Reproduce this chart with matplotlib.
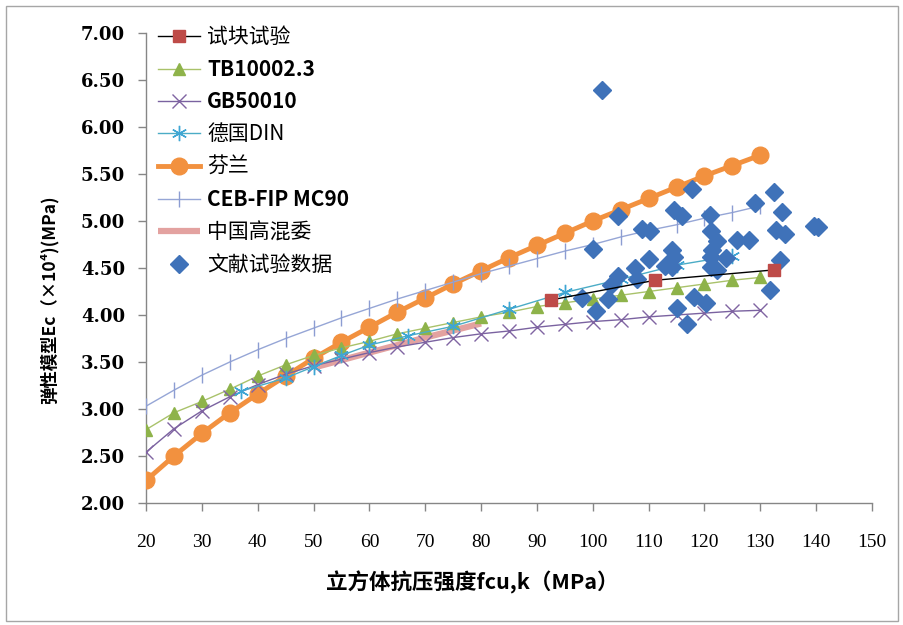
import matplotlib
matplotlib.use("Agg")
import matplotlib.pyplot as plt
from matplotlib.patches import Rectangle
from matplotlib.ticker import FormatStrFormatter

plt.rcParams['font.family'] = ['Noto Sans CJK SC', 'DejaVu Sans']

# ---------------- data ----------------
test_x = [92.5, 111.2, 132.5]
test_y = [4.16, 4.37, 4.48]

tb_x = [20, 25, 30, 35, 40, 45, 50, 55, 60, 65, 70, 75, 80, 85, 90, 95, 100, 105, 110, 115, 120, 125, 130]
tb_y = [2.78, 2.96, 3.08, 3.21, 3.35, 3.47, 3.57, 3.65, 3.72, 3.80, 3.86, 3.92, 3.98, 4.03, 4.09, 4.13, 4.17, 4.21, 4.25, 4.29, 4.33, 4.37, 4.40]

gb_x = [20, 25, 30, 35, 40, 45, 50, 55, 60, 65, 70, 75, 80, 85, 90, 95, 100, 105, 110, 115, 120, 125, 130]
gb_y = [2.54, 2.79, 2.98, 3.13, 3.26, 3.37, 3.46, 3.53, 3.60, 3.66, 3.71, 3.76, 3.80, 3.83, 3.87, 3.90, 3.93, 3.95, 3.98, 4.00, 4.02, 4.04, 4.05]

din_x = [37, 45, 50, 55, 60, 67, 75, 85, 95, 105, 115, 125]
din_y = [3.19, 3.33, 3.45, 3.57, 3.68, 3.78, 3.88, 4.06, 4.24, 4.38, 4.53, 4.63]

fin_x = [20, 25, 30, 35, 40, 45, 50, 55, 60, 65, 70, 75, 80, 85, 90, 95, 100, 105, 110, 115, 120, 125, 130]
fin_y = [2.24, 2.50, 2.74, 2.96, 3.16, 3.35, 3.54, 3.71, 3.87, 4.03, 4.18, 4.33, 4.47, 4.61, 4.74, 4.87, 5.00, 5.12, 5.24, 5.36, 5.48, 5.59, 5.70]

ceb_x = [20, 25, 30, 35, 40, 45, 50, 55, 60, 65, 70, 75, 80, 85, 90, 95, 100, 105, 110, 115, 120, 125, 130]
ceb_y = [3.03, 3.20, 3.36, 3.50, 3.63, 3.75, 3.86, 3.97, 4.07, 4.17, 4.26, 4.35, 4.44, 4.52, 4.60, 4.68, 4.75, 4.83, 4.90, 4.96, 5.03, 5.09, 5.16]

cn_x = [50, 60, 70, 80]
cn_y = [3.44, 3.60, 3.76, 3.91]

lit_x = [101.7, 100.0, 98.1, 100.6, 102.8, 103.2, 104.6, 104.6, 107.6, 107.9,
         108.8, 110.3, 110.0, 114.5, 116.0, 117.8, 121.0, 121.1, 122.3, 114.2,
         114.5, 121.4, 121.1, 123.8, 113.0, 114.2, 121.1, 122.3, 118.1, 120.2,
         115.1, 116.9, 125.9, 128.0, 129.1, 132.4, 133.9, 132.8, 134.5, 133.5,
         131.7, 139.6, 140.4]
lit_y = [6.39, 4.70, 4.18, 4.04, 4.17, 4.32, 4.42, 5.05, 4.50, 4.38,
         4.91, 4.89, 4.60, 5.12, 5.05, 5.34, 5.06, 4.89, 4.79, 4.69,
         4.62, 4.69, 4.62, 4.61, 4.52, 4.51, 4.51, 4.48, 4.19, 4.13,
         4.07, 3.90, 4.80, 4.80, 5.19, 5.31, 5.10, 4.90, 4.86, 4.59,
         4.27, 4.95, 4.94]

labels = ['试块试验', 'TB10002.3', 'GB50010', '德国DIN', '芬兰', 'CEB-FIP MC90', '中国高混委', '文献试验数据']
x_ticks = [20, 30, 40, 50, 60, 70, 80, 90, 100, 110, 120, 130, 140, 150]
y_ticks = [2.0, 2.5, 3.0, 3.5, 4.0, 4.5, 5.0, 5.5, 6.0, 6.5, 7.0]

FAM = ['Noto Sans CJK SC', 'DejaVu Sans']

# ---------------- figure ----------------
fig = plt.figure(figsize=(9.04, 6.25), dpi=100)
fig.patches.append(Rectangle((6 / 904, 4 / 625), 892 / 904, 615 / 625, transform=fig.transFigure,
                             fill=False, edgecolor='#a6a6a6', linewidth=1.0))
ax = fig.add_axes([146 / 904, 1 - 503 / 625, 726 / 904, 470 / 625])

ax.plot(test_x, test_y, color='black', lw=1.0, marker='s', ms=8, mfc='#be4b48', mec='#be4b48', label=labels[0], zorder=6)
ax.plot(tb_x, tb_y, color='#a9c26a', lw=1.0, marker='^', ms=8, mfc='#8eb34a', mec='#8eb34a', label=labels[1], zorder=4)
ax.plot(gb_x, gb_y, color='#7a62a0', lw=1.0, marker='x', ms=10, mew=1.0, mec='#8064a2', label=labels[2], zorder=4)
ax.plot(din_x, din_y, color='#4bacc6', lw=1.0, marker=(6, 2, 0), ms=11, mew=1.0, mec='#3fa6d4', label=labels[3], zorder=4)
ax.plot(fin_x, fin_y, color='#f2913f', lw=3.5, marker='o', ms=12, mfc='#f2913f', mec='#f2913f', label=labels[4], zorder=3)
ax.plot(ceb_x, ceb_y, color='#96a6d6', lw=1.0, marker='|', ms=12, mew=1.0, mec='#8c9dd2', label=labels[5], zorder=4)
ax.plot(cn_x, cn_y, color='#e3a2a0', lw=4.5, solid_capstyle='butt', label=labels[6], zorder=3)
ax.plot(lit_x, lit_y, ls='none', marker='D', ms=9.5, mfc='#3f72b9', mec='#3f72b9', label=labels[7], zorder=5)

ax.set_xlim(20, 150)
ax.set_ylim(2.0, 7.0)
ax.set_xticks(x_ticks)
ax.set_yticks(y_ticks)
ax.yaxis.set_major_formatter(FormatStrFormatter('%.2f'))

for s in ['top', 'right']:
    ax.spines[s].set_visible(False)
for s in ['left', 'bottom']:
    ax.spines[s].set_color('#868686')
    ax.spines[s].set_linewidth(1.0)
ax.tick_params(axis='both', direction='out', length=6, width=1, color='#868686')
ax.tick_params(axis='y', pad=9)
ax.tick_params(axis='x', pad=16)
for t in ax.get_yticklabels():
    t.set_fontfamily('DejaVu Serif')
    t.set_fontsize(13)
    t.set_fontweight('bold')
for t in ax.get_xticklabels():
    t.set_fontfamily('Liberation Serif')
    t.set_fontsize(14)

fig.text(49 / 904, 1 - 300 / 625, '弹性模型Ec（×10⁴)(MPa)', rotation=90, ha='center', va='center',
         fontsize=12.5, fontweight='bold', family=FAM)
fig.text(472 / 904, 1 - 582 / 625, '立方体抗压强度fcu,k（MPa）', ha='center', va='center',
         fontsize=15.5, fontweight='bold', family=FAM)

leg = ax.legend(loc='upper left', bbox_to_anchor=(0.011, 1.024), frameon=False, handlelength=2.0,
                handletextpad=0.35, labelspacing=0.53, borderpad=0.2, borderaxespad=0.0,
                prop={'family': FAM, 'size': 15})
for t in leg.get_texts():
    if t.get_text() in ('TB10002.3', 'GB50010', 'CEB-FIP MC90'):
        t.set_fontweight('bold')

fig.savefig('out.png', dpi=100, facecolor='white')
